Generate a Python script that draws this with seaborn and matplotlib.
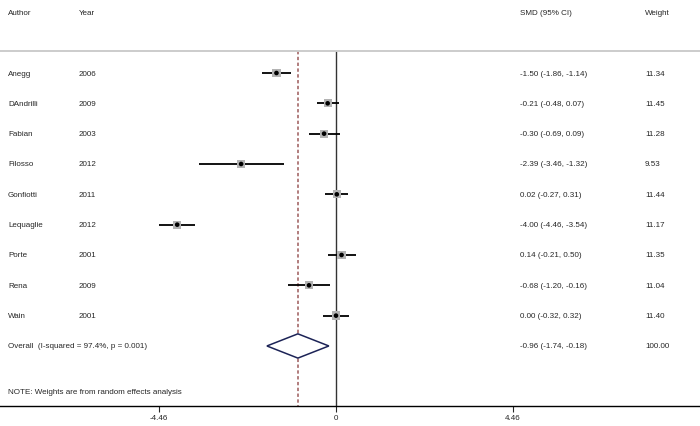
import numpy as np
import pandas as pd
import matplotlib
matplotlib.use("Agg")
import matplotlib.pyplot as plt
import seaborn as sns

sns.set_style("white")
plt.rcParams['font.family'] = ['Liberation Sans', 'DejaVu Sans']

# study data
authors = ['Anegg', 'DAndrilli', 'Fabian', 'Filosso', 'Gonfiotti',
           'Lequaglie', 'Porte', 'Rena', 'Wain']
years = ['2006', '2009', '2003', '2012', '2011', '2012', '2001', '2009', '2001']
smd = [-1.50, -0.21, -0.30, -2.39, 0.02, -4.00, 0.14, -0.68, 0.00]
ci_low = [-1.86, -0.48, -0.69, -3.46, -0.27, -4.46, -0.21, -1.20, -0.32]
ci_high = [-1.14, 0.07, 0.09, -1.32, 0.31, -3.54, 0.50, -0.16, 0.32]
weights = [11.34, 11.45, 11.28, 9.53, 11.44, 11.17, 11.35, 11.04, 11.40]

overall_smd = -0.96
overall_low = -1.74
overall_high = -0.18
overall_label = 'Overall  (I-squared = 97.4%, p = 0.001)'
note = 'NOTE: Weights are from random effects analysis'
tick_vals = [-4.46, 0, 4.46]
tick_labels = ['-4.46', '0', '4.46']

df = pd.DataFrame({'author': authors, 'year': years, 'smd': smd,
                   'lo': ci_low, 'hi': ci_high, 'weight': weights})
df['row'] = np.arange(len(df))
overall_row = len(df)
note_row = overall_row + 1.5

fig = plt.figure(figsize=(7, 4.27), dpi=100)
ax = fig.add_axes([0, 20 / 427, 1, 407 / 427])

# x scale: 0 at pixel 336, ~39.7 px per unit
ax.set_xlim(-336 / 39.7, (700 - 336) / 39.7)
ax.set_ylim((407 - 74) / 30.33, -74 / 30.33)

fs = 5.75
top_row = -0.73

# reference lines
ax.plot([0, 0], [top_row, ax.get_ylim()[0]], color='#333333', lw=1.0, zorder=1)
ax.plot([overall_smd, overall_smd], [top_row, ax.get_ylim()[0]],
        color='#9c5a5a', lw=1.1, ls=(0, (2.2, 1.6)), zorder=1)
ax.axhline(top_row, color='#cccccc', lw=1.4)

# confidence intervals
ax.hlines(df['row'], df['lo'], df['hi'], color='black', lw=1.3, zorder=2)

# weight boxes and point estimates
sns.scatterplot(data=df, x='smd', y='row', size='weight', sizes=(28, 36),
                size_norm=(9.5, 11.5), marker='s', color='#b3b3b3',
                edgecolor='none', legend=False, ax=ax, zorder=3)
sns.scatterplot(data=df, x='smd', y='row', color='black', s=11,
                edgecolor='none', legend=False, ax=ax, zorder=4)

# overall diamond
dx = [overall_low, overall_smd, overall_high, overall_smd, overall_low]
dy = [overall_row, overall_row - 0.4, overall_row, overall_row + 0.4, overall_row]
ax.fill(dx, dy, facecolor='white', edgecolor='#1c2356', lw=1.1, zorder=3)

# text columns (x in pixels -> data)
def px(p):
    return (p - 336) / 39.7

header_row = -2
for label, xp in [('Author', 8), ('Year', 79), ('SMD (95% CI)', 520), ('Weight', 645)]:
    ax.text(px(xp), header_row, label, fontsize=fs, va='center', ha='left')

for _, r in df.iterrows():
    ax.text(px(8), r['row'], r['author'], fontsize=fs, va='center')
    ax.text(px(79), r['row'], r['year'], fontsize=fs, va='center')
    ax.text(px(520), r['row'], f"{r['smd']:.2f} ({r['lo']:.2f}, {r['hi']:.2f})",
            fontsize=fs, va='center')
    ax.text(px(645), r['row'], f"{r['weight']:.2f}", fontsize=fs, va='center')

ax.text(px(8), overall_row, overall_label, fontsize=fs, va='center')
ax.text(px(520), overall_row,
        f"{overall_smd:.2f} ({overall_low:.2f}, {overall_high:.2f})",
        fontsize=fs, va='center')
ax.text(px(645), overall_row, '100.00', fontsize=fs, va='center')
ax.text(px(8), note_row, note, fontsize=fs, va='center')

# bottom axis
for s in ['top', 'left', 'right']:
    ax.spines[s].set_visible(False)
ax.spines['bottom'].set_color('black')
ax.spines['bottom'].set_linewidth(1.0)
ax.set_xticks(tick_vals)
ax.set_xticklabels(tick_labels, fontsize=fs)
ax.tick_params(axis='x', direction='out', length=4, width=0.8, pad=1.5, bottom=True)
ax.set_yticks([])
ax.set_xlabel('')
ax.set_ylabel('')

fig.savefig('out.png', dpi=100)
